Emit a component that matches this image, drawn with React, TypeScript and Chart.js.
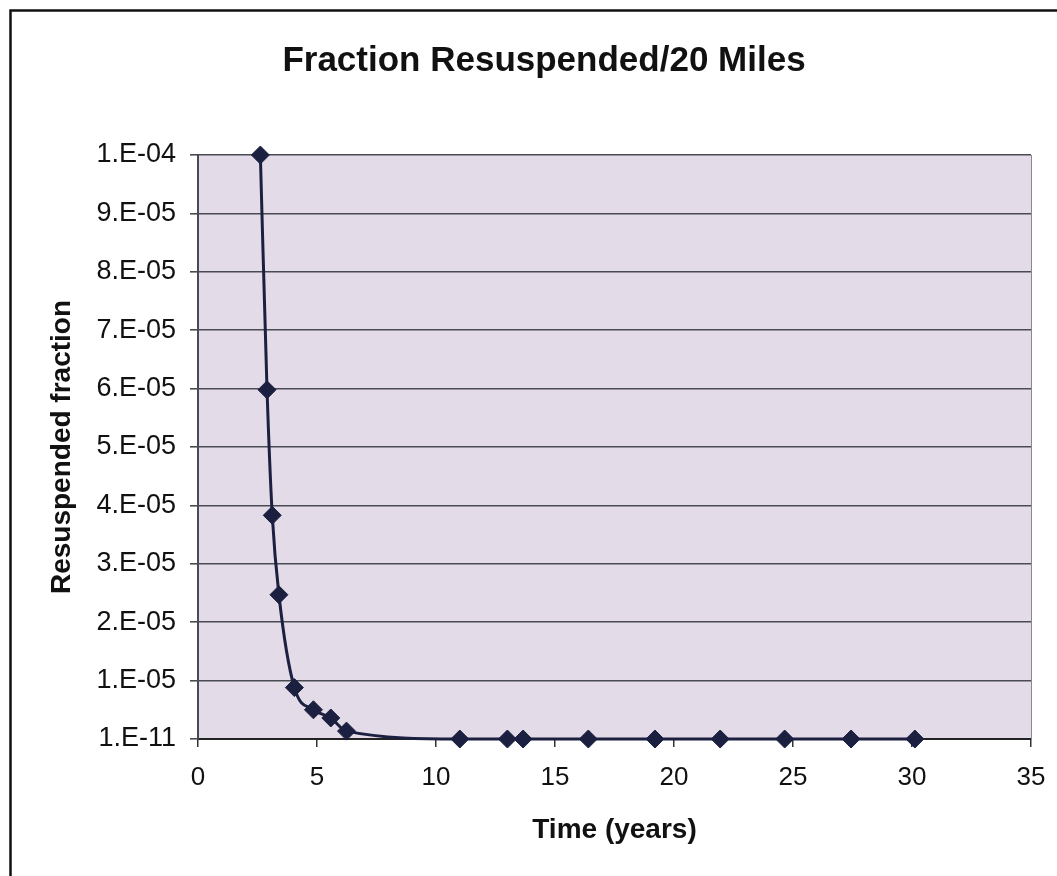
import React, { useEffect, useRef } from "react";
import { Chart, registerables } from "chart.js";

Chart.register(...registerables);

// ---- data ----
const timeYears = [
  2.62, 2.9, 3.12, 3.4, 4.05, 4.85, 5.58, 6.24,
  11.0, 13.0, 13.66, 16.4, 19.2, 21.94, 24.65, 27.44, 30.12,
];
const resuspendedFraction = [
  1.0e-4, 5.98e-5, 3.83e-5, 2.47e-5, 8.8e-6, 5.0e-6, 3.6e-6, 1.35e-6,
  1e-11, 1e-11, 1e-11, 1e-11, 1e-11, 1e-11, 1e-11, 1e-11, 1e-11,
];
const yTickValues = [1e-11, 1e-5, 2e-5, 3e-5, 4e-5, 5e-5, 6e-5, 7e-5, 8e-5, 9e-5, 1e-4];
const xTickValues = [0, 5, 10, 15, 20, 25, 30, 35];

const chartTitle = "Fraction Resuspended/20 Miles";
const xTitle = "Time (years)";
const yTitle = "Resuspended fraction";

const FONT = "'Liberation Sans', Arial, Helvetica, sans-serif";
const W = 1057;
const H = 876;

function sciLabel(v: number): string {
  let exp = Math.floor(Math.log10(v) + 1e-9);
  let m = Math.round(v / Math.pow(10, exp));
  if (m >= 10) {
    m = 1;
    exp += 1;
  }
  const sign = exp < 0 ? "-" : "+";
  return `${m}.E${sign}${String(Math.abs(exp)).padStart(2, "0")}`;
}

const decorPlugin = {
  id: "decor",
  beforeDraw(chart: any) {
    const { ctx, chartArea } = chart;
    ctx.save();
    ctx.fillStyle = "#ffffff";
    ctx.fillRect(0, 0, chart.width, chart.height);
    // plot background
    ctx.fillStyle = "#e3dbe8";
    ctx.fillRect(chartArea.left, chartArea.top, chartArea.right - chartArea.left, chartArea.bottom - chartArea.top);
    // outer frame (left and top edges visible)
    ctx.strokeStyle = "#111111";
    ctx.lineWidth = 2.5;
    ctx.beginPath();
    ctx.moveTo(10.5, chart.height);
    ctx.lineTo(10.5, 10.5);
    ctx.lineTo(chart.width, 10.5);
    ctx.stroke();
    // title
    ctx.fillStyle = "#111111";
    ctx.font = `bold 35px ${FONT}`;
    ctx.textAlign = "center";
    ctx.textBaseline = "middle";
    ctx.fillText(chartTitle, 544, 61);
    ctx.restore();
  },
  afterDatasetsDraw(chart: any) {
    const { ctx, chartArea } = chart;
    ctx.save();
    ctx.strokeStyle = "#8a8a8a";
    ctx.lineWidth = 1;
    ctx.beginPath();
    ctx.moveTo(chartArea.right + 0.5, chartArea.top);
    ctx.lineTo(chartArea.right + 0.5, chartArea.bottom);
    ctx.stroke();
    ctx.restore();
  },
};

export default function App() {
  const canvasRef = useRef<HTMLCanvasElement | null>(null);

  useEffect(() => {
    const canvas = canvasRef.current;
    if (!canvas) return;
    const chart = new Chart(canvas, {
      type: "line",
      data: {
        datasets: [
          {
            data: timeYears.map((t, i) => ({ x: t, y: resuspendedFraction[i] })),
            borderColor: "#1c2040",
            backgroundColor: "#1c2040",
            borderWidth: 3,
            pointStyle: "rectRot",
            pointRadius: 9,
            pointBackgroundColor: "#1c2040",
            pointBorderColor: "#1c2040",
            pointBorderWidth: 1,
            cubicInterpolationMode: "monotone",
            clip: false,
          } as any,
        ],
      },
      options: {
        responsive: false,
        animation: false,
        devicePixelRatio: 1,
        layout: { padding: { left: 10, right: 26, top: 155, bottom: 0 } },
        plugins: {
          legend: { display: false },
          title: { display: false },
          tooltip: { enabled: false },
        },
        scales: {
          x: {
            type: "linear",
            min: 0,
            max: 35,
            afterBuildTicks: (scale: any) => {
              scale.ticks = xTickValues.map((v) => ({ value: v }));
            },
            afterFit: (scale: any) => {
              scale.height = H - 739;
              scale.paddingLeft = 0;
              scale.paddingRight = 0;
            },
            ticks: {
              color: "#111111",
              font: { family: FONT, size: 26 },
              padding: 15,
              maxRotation: 0,
              autoSkip: false,
            },
            grid: {
              drawOnChartArea: false,
              drawTicks: true,
              tickLength: 8,
              color: "#333333",
              lineWidth: 1.5,
            },
            border: { display: true, color: "#222222", width: 2 },
            title: {
              display: true,
              text: xTitle,
              color: "#111111",
              font: { family: FONT, size: 28, weight: "bold" },
              padding: { top: 0, bottom: 29 },
            },
          },
          y: {
            type: "linear",
            min: 1e-11,
            max: 1e-4,
            afterBuildTicks: (scale: any) => {
              scale.ticks = yTickValues.map((v) => ({ value: v }));
            },
            afterFit: (scale: any) => {
              scale.width = 198 - 10;
              scale.paddingTop = 0;
              scale.paddingBottom = 0;
            },
            ticks: {
              color: "#111111",
              font: { family: FONT, size: 27 },
              padding: 14,
              autoSkip: false,
              callback: (v: any) => sciLabel(Number(v)),
            },
            grid: {
              drawTicks: true,
              tickLength: 8,
              color: "#4a4a55",
              lineWidth: 1.6,
            },
            border: { display: true, color: "#4a4a55", width: 2 },
            title: {
              display: true,
              text: yTitle,
              color: "#111111",
              font: { family: FONT, size: 28, weight: "bold" },
              padding: { top: 35, bottom: 0 },
            },
          },
        },
      },
      plugins: [decorPlugin],
    });
    return () => chart.destroy();
  }, []);

  return (
    <div style={{ position: "absolute", left: 0, top: 0, width: W, height: H, background: "#fff" }}>
      <canvas ref={canvasRef} width={W} height={H} style={{ width: `${W}px`, height: `${H}px`, display: "block" }} />
    </div>
  );
}
